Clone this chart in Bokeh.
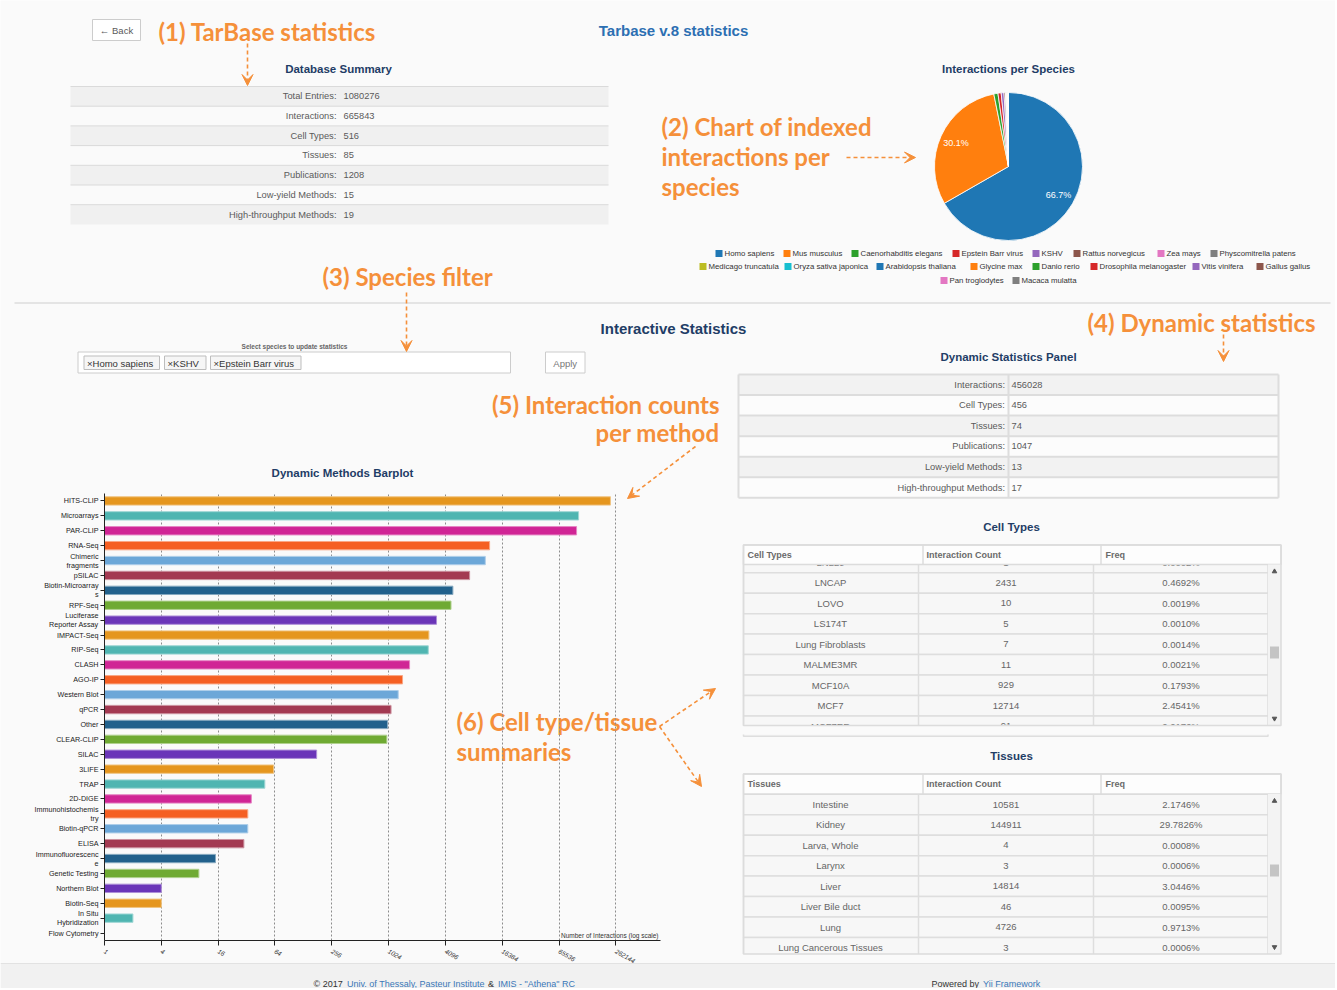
import math
from bokeh.plotting import figure
from bokeh.models import (Range1d, FactorRange, Arrow, VeeHead, FixedTicker,
                          PrintfTickFormatter, ColumnDataSource)
from bokeh.embed import file_html
from bokeh.resources import INLINE
from bokeh.core.properties import value

# ---------------------------------------------------------------- data
db_labels = ["Total Entries:", "Interactions:", "Cell Types:", "Tissues:",
             "Publications:", "Low-yield Methods:", "High-throughput Methods:"]
db_values = [1080276, 665843, 516, 85, 1208, 15, 19]

species = ["Homo sapiens", "Mus musculus", "Caenorhabditis elegans", "Epstein Barr virus",
           "KSHV", "Rattus norvegicus", "Zea mays", "Physcomitrella patens",
           "Medicago truncatula", "Oryza sativa japonica", "Arabidopsis thaliana",
           "Glycine max", "Danio rerio", "Drosophila melanogaster", "Vitis vinifera",
           "Gallus gallus", "Pan troglodytes", "Macaca mulatta"]
species_share = [66.7, 30.1, 0.9, 0.7, 0.6, 0.3, 0.15, 0.12, 0.08, 0.07, 0.06,
                 0.05, 0.04, 0.04, 0.03, 0.02, 0.01, 0.01]
species_colors = ["#1f77b4", "#ff7f0e", "#2ca02c", "#d62728", "#9467bd", "#8c564b",
                  "#e377c2", "#7f7f7f", "#bcbd22", "#17becf", "#1f77b4", "#ff7f0e",
                  "#2ca02c", "#d62728", "#9467bd", "#8c564b", "#e377c2", "#7f7f7f"]

selected_species = ["Homo sapiens", "KSHV", "Epstein Barr virus"]

dyn_labels = ["Interactions:", "Cell Types:", "Tissues:", "Publications:",
              "Low-yield Methods:", "High-throughput Methods:"]
dyn_values = [456028, 456, 74, 1047, 13, 17]

methods = ["HITS-CLIP", "Microarrays", "PAR-CLIP", "RNA-Seq", "Chimeric fragments", "pSILAC",
           "Biotin-Microarrays", "RPF-Seq", "Luciferase Reporter Assay", "IMPACT-Seq",
           "RIP-Seq", "CLASH", "AGO-IP", "Western Blot", "qPCR", "Other", "CLEAR-CLIP",
           "SILAC", "3LIFE", "TRAP", "2D-DIGE", "Immunohistochemistry", "Biotin-qPCR",
           "ELISA", "Immunofluorescence", "Genetic Testing", "Northern Blot", "Biotin-Seq",
           "In Situ Hybridization", "Flow Cytometry"]
method_counts = [230000, 105700, 100600, 12050, 10850, 7400, 4920, 4700, 3300, 2740,
                 2700, 1710, 1440, 1296, 1088, 1000, 982, 177, 62, 50, 36, 33, 33, 30,
                 15, 10, 4, 4, 2, 1]
method_label_wraps = {"Chimeric fragments": "Chimeric\nfragments",
                      "Biotin-Microarrays": "Biotin-Microarray\ns",
                      "Luciferase Reporter Assay": "Luciferase\nReporter Assay",
                      "Immunohistochemistry": "Immunohistochemis\ntry",
                      "Immunofluorescence": "Immunofluorescenc\ne",
                      "In Situ Hybridization": "In Situ\nHybridization"}
axis_ticks = [1, 4, 16, 64, 256, 1024, 4096, 16384, 65536, 262144]

cell_types = ["LN229", "LNCAP", "LOVO", "LS174T", "Lung Fibroblasts", "MALME3MR",
              "MCF10A", "MCF7", "MCF7ER"]
cell_counts = [1, 2431, 10, 5, 7, 11, 929, 12714, 91]
cell_freqs = ["0.0002%", "0.4692%", "0.0019%", "0.0010%", "0.0014%", "0.0021%",
              "0.1793%", "2.4541%", "0.0176%"]

tissues = ["Intestine", "Kidney", "Larva, Whole", "Larynx", "Liver", "Liver Bile duct",
           "Lung", "Lung Cancerous Tissues"]
tissue_counts = [10581, 144911, 4, 3, 14814, 46, 4726, 3]
tissue_freqs = ["2.1746%", "29.7826%", "0.0008%", "0.0006%", "3.0446%", "0.0095%",
                "0.9713%", "0.0006%"]

# ---------------------------------------------------------------- styles
BG = "#fafafa"
ORANGE = "#f5903a"
NAVY = "#1f3d66"
TITLE_BLUE = "#2c6fb2"
GREY = "#5a5a5a"
LINK = "#3a78b8"
SANS = "Liberation Sans"
ANNO = "Lato"
AS = "24px"  # annotation size
bar_palette = ["#e5961e", "#4fb5b1", "#d02595", "#f55f22", "#6ca7d8",
               "#a33a52", "#22618c", "#6faa33", "#6a35b8"]

W, H = 1335, 988

bg = figure(width=W, height=H, x_range=Range1d(0, W), y_range=Range1d(H, 0),
            toolbar_location=None, output_backend="svg", min_border=0,
            x_axis_location=None, y_axis_location=None)
bg.grid.visible = False
bg.outline_line_color = None
bg.background_fill_color = BG
bg.border_fill_color = BG


def T(x, y, s, size, color, style="normal", align="left", font=SANS, baseline="middle"):
    xs = x if isinstance(x, list) else [x]
    ys = y if isinstance(y, list) else [y] * len(xs)
    ss = s if isinstance(s, list) else [s] * len(xs)
    bg.text(x=xs, y=ys, text=ss, text_font=value(font), text_font_size=size,
            text_color=color, text_font_style=style, text_align=align,
            text_baseline=baseline)


def box(l, r, t, b, fill, line=None, lw=1):
    bg.quad(left=l, right=r, top=t, bottom=b, fill_color=fill,
            line_color=line, line_width=lw)


def darrow(x1, y1, x2, y2):
    bg.add_layout(Arrow(end=VeeHead(size=11, fill_color=ORANGE, line_color=ORANGE),
                        x_start=x1, y_start=y1, x_end=x2, y_end=y2,
                        line_color=ORANGE, line_width=1.6, line_dash="4 3"))


def lighten(c, f=0.45):
    r, g, b = int(c[1:3], 16), int(c[3:5], 16), int(c[5:7], 16)
    return "#%02x%02x%02x" % tuple(int(v + (255 - v) * f) for v in (r, g, b))


# ---------------------------------------------------------------- header
box(92, 140, 19, 40, "#ffffff", "#cccccc")
T(116, 30, "\u2190 Back", "9.5px", GREY, align="center")
T(158, 31, "(1) TarBase statistics", AS, ORANGE, style="bold", font=ANNO)
darrow(247, 43, 247, 85)
T(673, 30, "Tarbase v.8 statistics", "15px", TITLE_BLUE, style="bold", align="center")

# database summary table
T(338, 68, "Database Summary", "11.5px", NAVY, style="bold", align="center")
db_top, db_h = 86, 19.7
for i in range(len(db_labels)):
    t = db_top + i * db_h
    if i % 2 == 0:
        box(70, 608, t, t + db_h, "#f0f0f0")
bg.segment(x0=70, x1=608, y0=[db_top + i * db_h for i in range(len(db_labels))],
           y1=[db_top + i * db_h for i in range(len(db_labels))],
           line_color="#dadada", line_width=1)
T([336] * len(db_labels), [db_top + (i + 0.5) * db_h for i in range(len(db_labels))],
  db_labels, "9.3px", GREY, align="right")
T([343] * len(db_values), [db_top + (i + 0.5) * db_h for i in range(len(db_values))],
  [str(v) for v in db_values], "9.3px", GREY)

# ---------------------------------------------------------------- pie
T(1008, 68, "Interactions per Species", "11.5px", NAVY, style="bold", align="center")
cx, cy, rad = 1008, 166, 74
tot = sum(species_share)
starts, ends, acc = [], [], 0.0
for v in species_share:
    starts.append(math.pi / 2 - 2 * math.pi * acc / tot)
    acc += v
    ends.append(math.pi / 2 - 2 * math.pi * acc / tot)
bg.wedge(x=cx, y=cy, radius=rad, start_angle=starts, end_angle=ends, direction="clock",
         fill_color=species_colors, line_color="white", line_width=0.8)
lx, ly, lt = [], [], []
for v, a0, a1 in zip(species_share, starts, ends):
    if v / tot > 0.05:
        mid = (a0 + a1) / 2
        lx.append(cx + 0.78 * rad * math.cos(mid))
        ly.append(cy - 0.78 * rad * math.sin(mid))
        lt.append("%.1f%%" % (100 * v / tot))
T(lx, ly, lt, "9px", "white", align="center")

T(661, 126, "(2) Chart of indexed", AS, ORANGE, style="bold", font=ANNO)
T(661, 156, "interactions per", AS, ORANGE, style="bold", font=ANNO)
T(661, 186, "species", AS, ORANGE, style="bold", font=ANNO)
darrow(846, 157, 915, 157)

# legend (flow positions)
leg_rows = [(253, [715, 783, 851, 952, 1032, 1073, 1157, 1210]),
            (266, [699, 784, 876, 970, 1032, 1090, 1192, 1256]),
            (280, [940, 1012])]
k = 0
for ly_, xs in leg_rows:
    n = len(xs)
    box([x for x in xs], [x + 7 for x in xs], ly_ - 3.5, ly_ + 3.5, species_colors[k:k + n])
    T([x + 9 for x in xs], ly_, species[k:k + n], "7.8px", "#333333")
    k += n

# separator
bg.segment(x0=14, x1=1330, y0=302.5, y1=302.5, line_color="#e4e4e4", line_width=2)

# ---------------------------------------------------------------- interactive section
T(322, 276, "(3) Species filter", AS, ORANGE, style="bold", font=ANNO)
darrow(406, 292, 406, 351)
T(673, 328, "Interactive Statistics", "15px", NAVY, style="bold", align="center")
T(294, 346, "Select species to update statistics", "6.5px", "#666666", style="bold", align="center")
box(77.5, 510, 351.5, 372.5, "#ffffff", "#cccccc")
tag_l = [83.5, 164, 210]
tag_r = [159, 205.5, 300.5]
box(tag_l, tag_r, 355.5, 369, "#f6f6f6", "#bdbdbd")
T([l + 3 for l in tag_l], 362.5, ["\u00d7" + s for s in selected_species], "9.5px", "#333333")
box(545, 584.5, 351.5, 372.5, "#ffffff", "#cccccc")
T(564.7, 362.5, "Apply", "9.5px", "#777777", align="center")

T(1087, 322, "(4) Dynamic statistics", AS, ORANGE, style="bold", font=ANNO)
darrow(1223, 334, 1223, 361)

T(719, 404, "(5) Interaction counts", AS, ORANGE, style="bold", font=ANNO, align="right")
T(719, 432, "per method", AS, ORANGE, style="bold", font=ANNO, align="right")
darrow(695, 446, 627, 498)

# dynamic statistics panel
T(1008, 356, "Dynamic Statistics Panel", "11.5px", NAVY, style="bold", align="center")
dt, dh = 374, 20.55
for i in range(len(dyn_labels)):
    t = dt + i * dh
    box(738, 1278, t, t + dh, "#f2f2f2" if i % 2 == 0 else "#fcfcfc")
bg.segment(x0=738, x1=1278, y0=[dt + i * dh for i in range(len(dyn_labels) + 1)],
           y1=[dt + i * dh for i in range(len(dyn_labels) + 1)], line_color="#dddddd", line_width=2)
bg.segment(x0=[738, 1008, 1278], x1=[738, 1008, 1278], y0=dt, y1=dt + len(dyn_labels) * dh,
           line_color="#dddddd", line_width=2)
T([1004.5] * len(dyn_labels), [dt + (i + 0.5) * dh for i in range(len(dyn_labels))],
  dyn_labels, "9.3px", GREY, align="right")
T([1011] * len(dyn_values), [dt + (i + 0.5) * dh for i in range(len(dyn_values))],
  [str(v) for v in dyn_values], "9.3px", GREY)


# ---------------------------------------------------------------- scroll tables
def scroll_table(title, title_y, head_top, head_bot, body_bot, row0, names, counts, freqs,
                 thumb_top, head_name):
    rh = 20.45
    n = len(names)
    tops = [row0 + i * rh for i in range(n)]
    box(743, 1267.5, tops, [t + rh for t in tops], "#f7f7f7", "#dedede", 1.5)
    bg.segment(x0=[918, 1093], x1=[918, 1093], y0=head_bot, y1=body_bot,
               line_color="#dedede", line_width=1.5)
    ys = [t + rh / 2 for t in tops]
    T([830] * n, ys, names, "9.5px", "#666666", align="center")
    T([1005.5] * n, ys, [str(c) for c in counts], "9.5px", "#666666", align="center")
    T([1180.5] * n, ys, freqs, "9.5px", "#666666", align="center")
    # clip area below the scrolled body
    box(740, 1284, body_bot, body_bot + 9, BG)
    # header
    box(743, 1280.5, head_top, head_bot, "#fdfdfd", "#dcdcdc", 1.5)
    bg.segment(x0=[922.5, 1100.5], x1=[922.5, 1100.5], y0=head_top, y1=head_bot,
               line_color="#dcdcdc", line_width=1.5)
    hy = (head_top + head_bot) / 2
    T([747, 926, 1105], hy, [head_name, "Interaction Count", "Freq"], "9px", "#6a6a6a", style="bold")
    # scrollbar
    box(1267.5, 1280.5, head_bot, body_bot, "#f3f3f3")
    box(1269.5, 1278.5, thumb_top, thumb_top + 12, "#c4c4c4")
    bg.scatter(x=[1274, 1274], y=[head_bot + 7, body_bot - 7], marker=["triangle", "inverted_triangle"],
               size=4.5, fill_color="#555555", line_color="#555555")
    # outer border
    bg.quad(left=743, right=1280.5, top=head_top, bottom=body_bot, fill_color=None,
            line_color="#dcdcdc", line_width=1.5)
    T(1011, title_y, title, "11.5px", NAVY, style="bold", align="center")


scroll_table("Cell Types", 526, 544.5, 564, 725, 551.8, cell_types, cell_counts, cell_freqs,
             646, "Cell Types")
scroll_table("Tissues", 755.5, 773.5, 793.5, 953.5, 793.8, tissues, tissue_counts, tissue_freqs,
             864, "Tissues")

# ---------------------------------------------------------------- barplot labels / notes
T(342, 472.5, "Dynamic Methods Barplot", "11.5px", NAVY, style="bold", align="center")
T(658, 935, "Number of Interactions (log scale)", "6.5px", "#333333", align="right")
T(456, 721, "(6) Cell type/tissue", AS, ORANGE, style="bold", font=ANNO)
T(456, 751, "summaries", AS, ORANGE, style="bold", font=ANNO)
darrow(659, 726, 715, 688)
darrow(659, 726, 701, 786)

# ---------------------------------------------------------------- footer
box(0, W, 963, H, "#f1f1f1")
bg.segment(x0=0, x1=W, y0=963, y1=963, line_color="#e2e2e2", line_width=1)
fy = 983.5
T(313, fy, "\u00a9 2017", "9px", "#333333")
T(346.5, fy, "Univ. of Thessaly, Pasteur Institute", "9px", LINK)
T(487.5, fy, "&", "9px", "#333333")
T(497.5, fy, "IMIS - \"Athena\" RC", "9px", LINK)
T(931, fy, "Powered by", "9px", "#333333")
T(982.5, fy, "Yii Framework", "9px", LINK)

# ---------------------------------------------------------------- barplot (own figure, log axis)
bar_labels = [method_label_wraps.get(m, m) for m in methods]
bar = figure(width=662, height=972, x_axis_type="log", x_range=Range1d(1, 780000),
             y_range=FactorRange(factors=bar_labels[::-1]), toolbar_location=None,
             output_backend="svg", min_border_left=96, min_border_right=10,
             min_border_top=485, min_border_bottom=40)
bar.background_fill_alpha = 0
bar.border_fill_alpha = 0
bar.outline_line_color = None
bar.styles = {"position": "absolute", "left": "8px", "top": "8px"}

bar_colors = [bar_palette[i % len(bar_palette)] for i in range(len(methods))]
src = ColumnDataSource(dict(m=bar_labels, v=method_counts, c=bar_colors,
                            e=[lighten(c) for c in bar_colors]))
bar.hbar(y="m", left=1, right="v", height=0.56, fill_color="c", line_color="e",
         line_width=1, source=src)

xa = bar.xaxis[0]
xa.ticker = FixedTicker(ticks=axis_ticks)
xa.formatter = PrintfTickFormatter(format="%d")
xa.major_label_orientation = -math.pi / 6
xa.major_label_text_font_size = "6.5px"
xa.major_label_text_font_style = "italic"
xa.major_label_text_font = SANS
xa.major_label_text_color = "#333333"
xa.major_tick_out = 5
xa.major_tick_in = 0
xa.minor_tick_line_color = None
xa.axis_line_color = "#222222"
xa.major_tick_line_color = "#222222"

bar.xgrid.ticker = FixedTicker(ticks=axis_ticks[1:])
bar.xgrid.grid_line_dash = "2 2"
bar.xgrid.grid_line_color = "#8c8c8c"
bar.ygrid.visible = False

ya = bar.yaxis[0]
ya.major_label_text_font_size = "7.2px"
ya.major_label_text_font = SANS
ya.major_label_text_color = "#1a1a1a"
ya.major_label_text_line_height = 1.0
ya.major_tick_out = 4
ya.major_tick_in = 0
ya.major_label_standoff = 2
ya.axis_line_color = "#222222"
ya.major_tick_line_color = "#222222"

open("out.html", "w").write(file_html([bg, bar], INLINE))
